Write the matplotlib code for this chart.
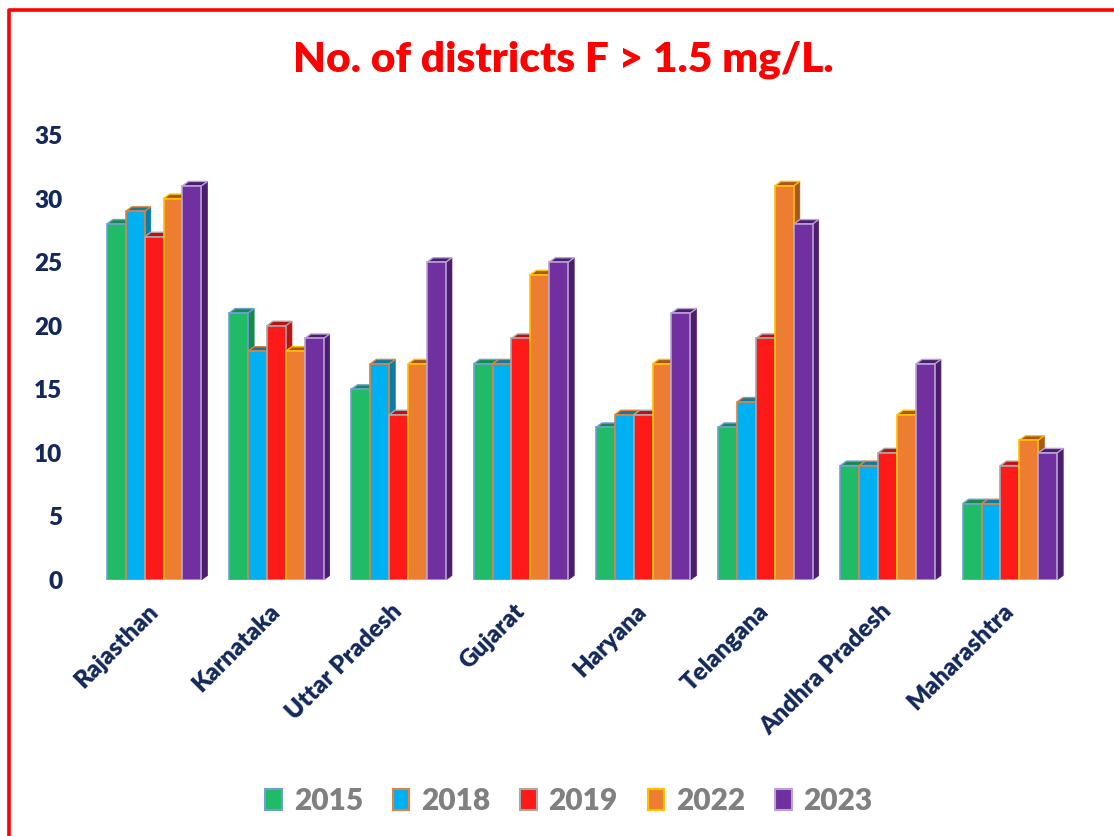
import matplotlib
matplotlib.use('Agg')
import matplotlib.pyplot as plt
from matplotlib.patches import Polygon, Patch
from matplotlib.lines import Line2D

plt.rcParams['font.family'] = ['Lato', 'DejaVu Sans']
plt.rcParams['font.weight'] = 'heavy'

states = ['Rajasthan', 'Karnataka', 'Uttar Pradesh', 'Gujarat', 'Haryana',
          'Telangana', 'Andhra Pradesh', 'Maharashtra']
years = ['2015', '2018', '2019', '2022', '2023']
v2015 = [28, 21, 15, 17, 12, 12, 9, 6]
v2018 = [29, 18, 17, 17, 13, 14, 9, 6]
v2019 = [27, 20, 13, 19, 13, 19, 10, 9]
v2022 = [30, 18, 17, 24, 17, 31, 13, 11]
v2023 = [31, 19, 25, 25, 21, 28, 17, 10]
series = [v2015, v2018, v2019, v2022, v2023]

front = ['#21BA67', '#00B0F0', '#FF1A1A', '#ED7D31', '#7030A0']
shade = ['#178A4B', '#0A7CA6', '#C01010', '#A9561C', '#4A1E6C']
edges = ['#6E9FD6', '#E5803A', '#A8A8A8', '#FFC000', '#B9A2D6']

navy = '#13295B'

fig = plt.figure(figsize=(11.14, 8.36), dpi=100)
ax = fig.add_axes([93 / 1114, 1 - 580 / 836, 978 / 1114, 445 / 836])

w = 0.1545       # bar width (category units)
dx = 0.05        # depth offset x
dy = 0.35        # depth offset y
start = -2.5 * w

for i, s in enumerate(states):
    for j, vals in enumerate(series):
        v = vals[i]
        x0 = i + start + j * w
        side = Polygon([(x0 + w, 0), (x0 + w + dx, dy), (x0 + w + dx, v + dy), (x0 + w, v)],
                       closed=True, facecolor=shade[j], edgecolor=shade[j], lw=0.5, zorder=2)
        top = Polygon([(x0, v), (x0 + w, v), (x0 + w + dx, v + dy), (x0 + dx, v + dy)],
                      closed=True, facecolor=shade[j], edgecolor=edges[j], lw=1, zorder=2)
        ax.add_patch(side)
        ax.add_patch(top)
        ax.bar(x0, v, width=w, align='edge', color=front[j], edgecolor=edges[j],
               linewidth=1.2, zorder=3)

ax.set_xlim(-0.5, len(states) - 0.5)
ax.set_ylim(0, 35)
ax.set_yticks(range(0, 36, 5))
ax.set_xticks(range(len(states)))
ax.set_xticklabels(states, rotation=45, ha='right', va='center', rotation_mode='anchor')
for sp in ax.spines.values():
    sp.set_visible(False)
ax.tick_params(axis='y', length=0, pad=22, labelsize=17.5, labelcolor=navy)
ax.tick_params(axis='x', length=0, pad=20, labelsize=17.5, labelcolor=navy)

fig.text(0.506, 0.929, 'No. of districts F > 1.5 mg/L.', ha='center', va='center',
         fontsize=30.5, fontweight='heavy', color='#FF0000')

handles = [Patch(facecolor=front[j], edgecolor=edges[j], linewidth=1.5) for j in range(5)]
fig.legend(handles, years, loc='center', bbox_to_anchor=(569 / 1114, 0.042), ncol=5,
           frameon=False, fontsize=21.5, labelcolor='#808080', handlelength=0.55,
           handleheight=0.75, handletextpad=0.4, columnspacing=1.0)

# red frame (left and top edges only visible)
fig.add_artist(Line2D([9 / 1114, 9 / 1114, 1.01], [-0.01, 1 - 9.5 / 836, 1 - 9.5 / 836],
                      transform=fig.transFigure, color='#FF0000', lw=2.6))

fig.savefig('out.png', dpi=100)
